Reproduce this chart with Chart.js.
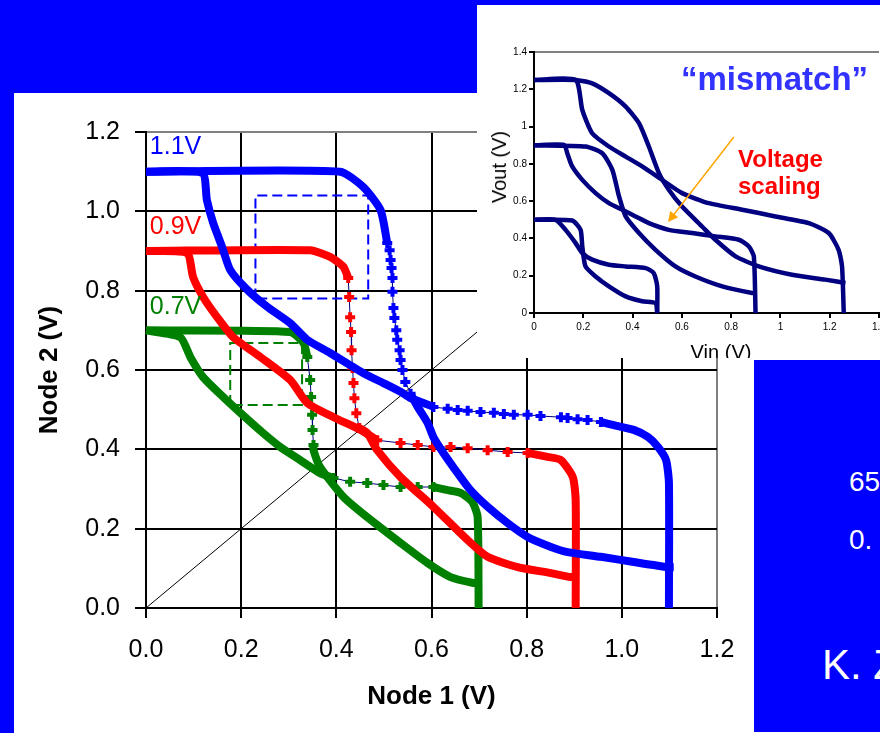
<!DOCTYPE html>
<html>
<head>
<meta charset="utf-8">
<script src="https://cdn.jsdelivr.net/npm/chart.js@4.4.1/dist/chart.umd.min.js"></script>
<style>
  html, body { margin: 0; padding: 0; }
  body {
    width: 880px; height: 733px; overflow: hidden; position: relative;
    background: #0000ff;
    font-family: "Liberation Sans", Arial, sans-serif;
  }
  #mainPanel { position: absolute; left: 14px; top: 93px; width: 866px; height: 640px; background: #fff; }
  #mainWrap { position: absolute; left: 14px; top: 93px; width: 740px; height: 640px; }
  #insetWrap { position: absolute; left: 477px; top: 5px; width: 403px; height: 353px; background: #fff; overflow: hidden; }
  #insetWrap canvas { position: absolute; left: 0; top: 0; }
  .note { position: absolute; white-space: nowrap; }
  #mismatch { left: 204px; top: 57px; font-size: 33px; line-height: 33px; font-weight: bold; color: #3333ff; }
  #scaling { left: 261px; top: 140px; font-size: 24px; line-height: 27px; font-weight: bold; color: #ff0000; }
  .axisName { position: absolute; font-size: 20px; line-height: 20px; color: #000; white-space: nowrap; }
  #vout { left: 22px; top: 162px; transform: translate(-50%, -50%) rotate(-90deg); }
  #vin { left: 244px; top: 347px; transform: translate(-50%, -50%); }
  #infoBox { position: absolute; left: 754px; top: 360px; width: 126px; height: 372px; background: #0000ff; overflow: hidden; color: #fff; }
  #infoBox div { position: absolute; white-space: nowrap; }
  #l1 { left: 95px; top: 108px; font-size: 28px; line-height: 28px; }
  #l2 { left: 95px; top: 166px; font-size: 28px; line-height: 28px; }
  #l3 { left: 68px; top: 284px; font-size: 42px; line-height: 42px; }
</style>
</head>
<body>
<div id="mainPanel"></div>
<div id="mainWrap"><canvas id="main" width="740" height="640"></canvas></div>
<div id="insetWrap">
  <canvas id="inset" width="420" height="380"></canvas>
  <div class="note" id="mismatch">“mismatch”</div>
  <div class="note" id="scaling">Voltage<br>scaling</div>
  <div class="axisName" id="vout">Vout (V)</div>
  <div class="axisName" id="vin">Vin (V)</div>
</div>
<div id="infoBox">
  <div id="l1">65</div>
  <div id="l2">0.</div>
  <div id="l3">K. Z</div>
</div>
<script>
// --- main chart: Node 2 vs Node 1 butterfly curves at 1.1V / 0.9V / 0.7V ---
const mainXTicks = [0, 0.2, 0.4, 0.6, 0.8, 1.0, 1.2];
const mainYTicks = [0, 0.2, 0.4, 0.6, 0.8, 1.0, 1.2];

// each curve: thick head, marker transition, thick tail
const blue1Head = [[0,1.1],[0.408,1.1],[0.457,1.061],[0.493,1.003],[0.507,0.92]];
const blue1Drop = [[0.507,0.92],[0.512,0.902],[0.514,0.877],[0.516,0.857],[0.518,0.832],[0.518,0.797],[0.52,0.756],[0.522,0.731],[0.526,0.7],[0.528,0.676],[0.533,0.65],[0.535,0.625],[0.539,0.6],[0.545,0.57],[0.556,0.54]];
const blue1Tail = [[0.556,0.54],[0.571,0.507],[0.592,0.466],[0.604,0.431],[0.625,0.391],[0.655,0.34],[0.682,0.297],[0.718,0.255],[0.76,0.214],[0.802,0.179],[0.851,0.154],[0.886,0.141],[0.956,0.129],[1.025,0.116],[1.097,0.103],[1.109,0.103]];

const blue2Head = [[0,1.1],[0.118,1.097],[0.128,1.028],[0.141,0.971],[0.16,0.91],[0.177,0.852],[0.213,0.802],[0.255,0.759],[0.303,0.718],[0.339,0.676],[0.387,0.643],[0.457,0.592],[0.499,0.567],[0.535,0.545],[0.556,0.529],[0.583,0.517],[0.604,0.507]];
const blue2Flat = [[0.604,0.507],[0.634,0.502],[0.655,0.499],[0.676,0.497],[0.703,0.494],[0.731,0.492],[0.752,0.489],[0.773,0.487],[0.802,0.487],[0.829,0.484],[0.872,0.481],[0.886,0.479],[0.907,0.476],[0.928,0.474],[0.956,0.469]];
const blue2Tail = [[0.956,0.469],[0.983,0.461],[1.025,0.449],[1.055,0.431],[1.076,0.406],[1.093,0.373],[1.099,0.315],[1.099,0]];

const red1Head = [[0,0.9],[0.345,0.902],[0.387,0.885],[0.415,0.86],[0.425,0.832]];
const red1Drop = [[0.425,0.832],[0.427,0.784],[0.429,0.733],[0.431,0.696],[0.432,0.65],[0.434,0.605],[0.436,0.567],[0.438,0.529],[0.442,0.491],[0.448,0.454]];
const red1Tail = [[0.448,0.454],[0.465,0.441],[0.486,0.398],[0.535,0.33],[0.604,0.255],[0.676,0.171],[0.718,0.129],[0.781,0.103],[0.851,0.088],[0.893,0.078],[0.905,0.078]];

const red2Head = [[0,0.9],[0.086,0.895],[0.099,0.834],[0.12,0.784],[0.149,0.734],[0.183,0.683],[0.24,0.633],[0.303,0.575],[0.339,0.517],[0.394,0.481],[0.451,0.449],[0.486,0.423]];
const red2Flat = [[0.486,0.423],[0.535,0.416],[0.571,0.411],[0.604,0.406],[0.64,0.406],[0.676,0.403],[0.718,0.398],[0.76,0.393],[0.802,0.391]];
const red2Tail = [[0.802,0.391],[0.844,0.381],[0.872,0.373],[0.897,0.33],[0.903,0.272],[0.903,0]];

const green1Head = [[0,0.7],[0.303,0.696],[0.331,0.668],[0.339,0.633]];
const green1Drop = [[0.339,0.633],[0.345,0.575],[0.347,0.532],[0.349,0.487],[0.35,0.449],[0.352,0.411]];
const green1Tail = [[0.352,0.411],[0.352,0.398],[0.366,0.355],[0.415,0.28],[0.465,0.229],[0.535,0.164],[0.592,0.113],[0.64,0.078],[0.688,0.063],[0.699,0.063]];

const green2Head = [[0,0.7],[0.072,0.683],[0.093,0.633],[0.12,0.582],[0.162,0.532],[0.198,0.492],[0.246,0.441],[0.282,0.406],[0.324,0.373],[0.366,0.34],[0.394,0.328]];
const green2Flat = [[0.394,0.328],[0.429,0.318],[0.465,0.315],[0.499,0.31],[0.535,0.305],[0.571,0.305],[0.604,0.305]];
const green2Tail = [[0.604,0.305],[0.634,0.297],[0.661,0.29],[0.686,0.267],[0.697,0.229],[0.699,0]];

const diagonal = [[0,0],[0.7,0.7]];
const blueBox = [[0.23,0.78],[0.23,1.04],[0.467,1.04],[0.467,0.78],[0.23,0.78]];
const greenBox = [[0.177,0.512],[0.177,0.668],[0.328,0.668],[0.328,0.512],[0.177,0.512]];

const supplyLabels = ['1.1V', '0.9V', '0.7V'];
const supplyLabelAt = [[0.008,1.161],[0.008,0.959],[0.008,0.759]];
const supplyColors = ['#0000ff', '#ff0000', '#008000'];

// --- inset: Vout vs Vin with mismatch ---
const insetXTicks = [0, 0.2, 0.4, 0.6, 0.8, 1.0, 1.2, 1.4];
const insetYTicks = [0, 0.2, 0.4, 0.6, 0.8, 1.0, 1.2, 1.4];
const in125a = [[0,1.25],[0.169,1.25],[0.196,1.089],[0.236,0.964],[0.304,0.893],[0.372,0.839],[0.439,0.786],[0.52,0.714],[0.601,0.643],[0.709,0.589],[0.845,0.554],[0.98,0.518],[1.115,0.482],[1.196,0.429],[1.236,0.339],[1.25,0.25],[1.257,0]];
const in125b = [[0,1.25],[0.169,1.25],[0.236,1.232],[0.304,1.179],[0.372,1.107],[0.426,1.018],[0.466,0.893],[0.507,0.75],[0.547,0.661],[0.601,0.571],[0.682,0.464],[0.736,0.393],[0.818,0.304],[0.912,0.25],[1.047,0.205],[1.182,0.179],[1.264,0.161]];
const in09a = [[0,0.9],[0.122,0.902],[0.135,0.857],[0.155,0.786],[0.196,0.714],[0.25,0.643],[0.304,0.589],[0.358,0.554],[0.412,0.518],[0.466,0.482],[0.547,0.446],[0.642,0.429],[0.736,0.411],[0.831,0.393],[0.872,0.357],[0.892,0.304],[0.899,0]];
const in09b = [[0,0.9],[0.209,0.893],[0.277,0.857],[0.318,0.768],[0.345,0.625],[0.372,0.518],[0.426,0.429],[0.493,0.339],[0.574,0.25],[0.655,0.196],[0.764,0.143],[0.885,0.107],[0.905,0.107]];
const in05a = [[0,0.5],[0.088,0.5],[0.128,0.446],[0.169,0.375],[0.196,0.321],[0.236,0.286],[0.304,0.259],[0.372,0.25],[0.453,0.241],[0.486,0.214],[0.5,0.143],[0.5,0]];
const in05b = [[0,0.5],[0.155,0.496],[0.189,0.446],[0.196,0.357],[0.209,0.25],[0.25,0.196],[0.304,0.143],[0.372,0.089],[0.439,0.063],[0.493,0.054],[0.5,0]];
const arrowFrom = [0.811, 0.944];
const arrowTo = [0.544, 0.488];

const FONT = '"Liberation Sans", Arial, sans-serif';
Chart.defaults.font.family = FONT;
Chart.defaults.color = '#000';

function thick(data, color) {
  return { data, showLine: true, borderColor: color, borderWidth: 8, pointRadius: 0,
    tension: 0.2, borderJoinStyle: 'round', clip: false };
}
function marked(data, color) {
  return { data, showLine: true, borderColor: '#000080', borderWidth: 1, tension: 0,
    pointStyle: 'cross', pointRadius: 5, pointBorderWidth: 4,
    pointBorderColor: color, pointBackgroundColor: color, clip: false };
}
function dashed(data, color) {
  return { data, showLine: true, borderColor: color, borderWidth: 2, borderDash: [10, 5],
    pointRadius: 0, tension: 0 };
}

const supplyLabelPlugin = {
  id: 'supplyLabels',
  afterDatasetsDraw(chart) {
    const { ctx, scales: { x, y } } = chart;
    ctx.save();
    ctx.font = '25px ' + FONT;
    ctx.textBaseline = 'middle';
    ctx.textAlign = 'left';
    supplyLabels.forEach((t, i) => {
      ctx.fillStyle = supplyColors[i];
      ctx.fillText(t, x.getPixelForValue(supplyLabelAt[i][0]), y.getPixelForValue(supplyLabelAt[i][1]));
    });
    ctx.restore();
  }
};

new Chart(document.getElementById('main'), {
  type: 'scatter',
  data: {
    datasets: [
      marked(blue1Drop, '#0000ff'), marked(blue2Flat, '#0000ff'),
      thick(blue1Head, '#0000ff'), thick(blue1Tail, '#0000ff'),
      thick(blue2Head, '#0000ff'), thick(blue2Tail, '#0000ff'),
      marked(red1Drop, '#ff0000'), marked(red2Flat, '#ff0000'),
      thick(red1Head, '#ff0000'), thick(red1Tail, '#ff0000'),
      thick(red2Head, '#ff0000'), thick(red2Tail, '#ff0000'),
      marked(green1Drop, '#008000'), marked(green2Flat, '#008000'),
      thick(green1Head, '#008000'), thick(green1Tail, '#008000'),
      thick(green2Head, '#008000'), thick(green2Tail, '#008000'),
      dashed(blueBox, '#0000ff'), dashed(greenBox, '#008000'),
      { data: diagonal, showLine: true, borderColor: '#000', borderWidth: 1, pointRadius: 0 }
    ]
  },
  options: {
    responsive: false,
    animation: false,
    devicePixelRatio: 1,
    layout: { padding: { left: 0, top: 39, right: 37, bottom: 0 } },
    plugins: { legend: { display: false }, tooltip: { enabled: false } },
    scales: {
      x: {
        type: 'linear', min: 0, max: 1.2,
        afterBuildTicks: (s) => { s.ticks = mainXTicks.map((v) => ({ value: v })); },
        afterFit: (s) => { s.height = 125; },
        ticks: { font: { size: 25 }, color: '#000', padding: 17, callback: (v) => v.toFixed(1) },
        grid: { color: (c) => (c.tick && c.tick.value === 1.2 ? '#808080' : '#000'), lineWidth: 2, tickColor: '#000', tickLength: 10 },
        border: { display: true, color: '#000', width: 2 },
        title: { display: true, text: 'Node 1 (V)', font: { size: 26, weight: 'bold' }, color: '#000', padding: { top: 0, bottom: 21 } }
      },
      y: {
        type: 'linear', min: 0, max: 1.2,
        afterBuildTicks: (s) => { s.ticks = mainYTicks.map((v) => ({ value: v })); },
        afterFit: (s) => { s.width = 132; },
        ticks: { font: { size: 25 }, color: '#000', padding: 15, callback: (v) => v.toFixed(1) },
        grid: { color: (c) => (c.tick && c.tick.value === 1.2 ? '#808080' : '#000'), lineWidth: 2, tickColor: '#000', tickLength: 11 },
        border: { display: true, color: '#000', width: 2 },
        title: { display: true, text: 'Node 2 (V)', font: { size: 26, weight: 'bold' }, color: '#000', padding: { top: 20, bottom: 0 } }
      }
    }
  },
  plugins: [supplyLabelPlugin]
});

const arrowPlugin = {
  id: 'scalingArrow',
  afterDatasetsDraw(chart) {
    const { ctx, scales: { x, y } } = chart;
    const x0 = x.getPixelForValue(arrowFrom[0]), y0 = y.getPixelForValue(arrowFrom[1]);
    const x1 = x.getPixelForValue(arrowTo[0]), y1 = y.getPixelForValue(arrowTo[1]);
    const a = Math.atan2(y1 - y0, x1 - x0);
    ctx.save();
    ctx.strokeStyle = '#ffa500';
    ctx.fillStyle = '#ffa500';
    ctx.lineWidth = 1.5;
    ctx.beginPath();
    ctx.moveTo(x0, y0);
    ctx.lineTo(x1 - 6 * Math.cos(a), y1 - 6 * Math.sin(a));
    ctx.stroke();
    ctx.beginPath();
    ctx.moveTo(x1, y1);
    ctx.lineTo(x1 - 10 * Math.cos(a) + 5 * Math.sin(a), y1 - 10 * Math.sin(a) - 5 * Math.cos(a));
    ctx.lineTo(x1 - 10 * Math.cos(a) - 5 * Math.sin(a), y1 - 10 * Math.sin(a) + 5 * Math.cos(a));
    ctx.closePath();
    ctx.fill();
    ctx.restore();
  }
};

const navy = '#000080';
function insetLine(data) {
  return { data, showLine: true, borderColor: navy, borderWidth: 4.5, pointRadius: 0,
    tension: 0.2, borderJoinStyle: 'round', clip: false };
}

new Chart(document.getElementById('inset'), {
  type: 'scatter',
  data: {
    datasets: [in125a, in125b, in09a, in09b, in05a, in05b].map(insetLine)
  },
  options: {
    responsive: false,
    animation: false,
    devicePixelRatio: 1,
    layout: { padding: { left: 0, top: 47, right: 18, bottom: 0 } },
    plugins: { legend: { display: false }, tooltip: { enabled: false } },
    scales: {
      x: {
        type: 'linear', min: 0, max: 1.4,
        afterBuildTicks: (s) => { s.ticks = insetXTicks.map((v) => ({ value: v })); },
        afterFit: (s) => { s.height = 72; },
        ticks: { font: { size: 10 }, color: '#000', padding: 3, callback: (v) => String(Number(v.toFixed(1))) },
        grid: { drawOnChartArea: false, tickColor: '#000', tickLength: 5, lineWidth: 2 },
        border: { display: true, color: '#000', width: 2 }
      },
      y: {
        type: 'linear', min: 0, max: 1.4,
        afterBuildTicks: (s) => { s.ticks = insetYTicks.map((v) => ({ value: v })); },
        afterFit: (s) => { s.width = 57; },
        ticks: { font: { size: 10 }, color: '#000', padding: 2, callback: (v) => String(Number(v.toFixed(1))) },
        grid: { color: (c) => (c.tick && c.tick.value === 1.4 ? '#808080' : 'rgba(0,0,0,0)'), tickColor: '#000', tickLength: 5, lineWidth: 2 },
        border: { display: true, color: '#000', width: 2 }
      }
    }
  },
  plugins: [arrowPlugin]
});
</script>
</body>
</html>
